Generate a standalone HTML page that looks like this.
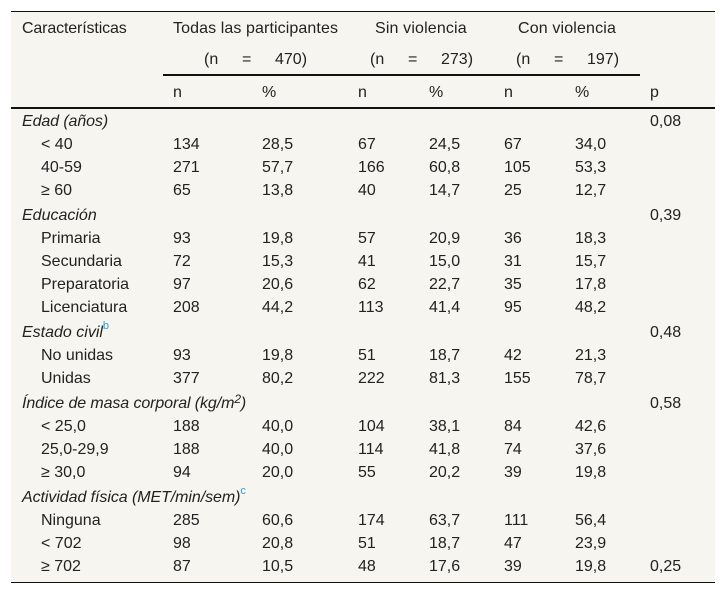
<!DOCTYPE html>
<html lang="es">
<head>
<meta charset="utf-8">
<title>Características de las participantes</title>
<style>
html,body{margin:0;padding:0;background:#fff}
#t{position:relative;width:726px;height:594px;overflow:hidden;background:#fff;font:16px/20px "Liberation Sans",sans-serif;color:#222}
#bg{position:absolute;left:11px;top:11px;width:704px;height:571px;background:#f7f5ef}
.l{position:absolute;background:#111}
.r{position:absolute;left:0;width:726px;height:20px;margin-top:2px}
.r span{position:absolute;top:0;white-space:nowrap}
.c0{left:22px}.i{left:41px}.a{left:173px}.b{left:262px}.c{left:358px}.d{left:429px}.e{left:504px}.f{left:575px}.p{left:650px}
em{font-style:italic}
sup{position:absolute;font-size:11px;line-height:10px;top:-2px;margin-left:0}
.ref{color:#2a9fe0;font-style:normal}
</style>
</head>
<body>
<div id="t">
<div id="bg"></div>
<div class="l" style="left:11px;top:11px;width:704px;height:1px"></div>
<div class="l" style="left:163px;top:74px;width:477px;height:2px"></div>
<div class="l" style="left:11px;top:107px;width:704px;height:2px"></div>
<div class="l" style="left:11px;top:582px;width:704px;height:1px"></div>

<div class="r" style="top:17px"><span class="c0" style="letter-spacing:-.14px">Características</span><span class="a" style="letter-spacing:.1px">Todas las participantes</span><span style="left:375px;letter-spacing:.15px">Sin violencia</span><span style="left:518px;letter-spacing:.15px">Con violencia</span></div>
<div class="r" style="top:48px"><span style="left:204px">(n</span><span style="left:242px">=</span><span style="left:275px">470)</span><span style="left:370px">(n</span><span style="left:408px">=</span><span style="left:441px">273)</span><span style="left:516px">(n</span><span style="left:554px">=</span><span style="left:587px">197)</span></div>
<div class="r" style="top:81px"><span class="a">n</span><span class="b">%</span><span class="c">n</span><span class="d">%</span><span class="e">n</span><span class="f">%</span><span class="p">p</span></div>

<div class="r" style="top:110px"><span class="c0" style="letter-spacing:-.1px"><em>Edad (años)</em></span><span class="p">0,08</span></div>
<div class="r" style="top:133px"><span class="i">&lt; 40</span><span class="a">134</span><span class="b">28,5</span><span class="c">67</span><span class="d">24,5</span><span class="e">67</span><span class="f">34,0</span></div>
<div class="r" style="top:156px"><span class="i">40-59</span><span class="a">271</span><span class="b">57,7</span><span class="c">166</span><span class="d">60,8</span><span class="e">105</span><span class="f">53,3</span></div>
<div class="r" style="top:179px"><span class="i">≥ 60</span><span class="a">65</span><span class="b">13,8</span><span class="c">40</span><span class="d">14,7</span><span class="e">25</span><span class="f">12,7</span></div>

<div class="r" style="top:204px"><span class="c0"><em>Educación</em></span><span class="p">0,39</span></div>
<div class="r" style="top:227px"><span class="i">Primaria</span><span class="a">93</span><span class="b">19,8</span><span class="c">57</span><span class="d">20,9</span><span class="e">36</span><span class="f">18,3</span></div>
<div class="r" style="top:250px"><span class="i">Secundaria</span><span class="a">72</span><span class="b">15,3</span><span class="c">41</span><span class="d">15,0</span><span class="e">31</span><span class="f">15,7</span></div>
<div class="r" style="top:273px"><span class="i">Preparatoria</span><span class="a">97</span><span class="b">20,6</span><span class="c">62</span><span class="d">22,7</span><span class="e">35</span><span class="f">17,8</span></div>
<div class="r" style="top:296px"><span class="i">Licenciatura</span><span class="a">208</span><span class="b">44,2</span><span class="c">113</span><span class="d">41,4</span><span class="e">95</span><span class="f">48,2</span></div>

<div class="r" style="top:321px"><span class="c0"><em>Estado civil</em><sup class="ref">b</sup></span><span class="p">0,48</span></div>
<div class="r" style="top:344px"><span class="i">No unidas</span><span class="a">93</span><span class="b">19,8</span><span class="c">51</span><span class="d">18,7</span><span class="e">42</span><span class="f">21,3</span></div>
<div class="r" style="top:367px"><span class="i">Unidas</span><span class="a">377</span><span class="b">80,2</span><span class="c">222</span><span class="d">81,3</span><span class="e">155</span><span class="f">78,7</span></div>

<div class="r" style="top:392px"><span class="c0" style="letter-spacing:-.1px"><em>Índice de masa corporal (kg/m<b style="font-weight:normal;font-size:12px;position:relative;top:-5px">2</b>)</em></span><span class="p">0,58</span></div>
<div class="r" style="top:415px"><span class="i">&lt; 25,0</span><span class="a">188</span><span class="b">40,0</span><span class="c">104</span><span class="d">38,1</span><span class="e">84</span><span class="f">42,6</span></div>
<div class="r" style="top:438px"><span class="i">25,0-29,9</span><span class="a">188</span><span class="b">40,0</span><span class="c">114</span><span class="d">41,8</span><span class="e">74</span><span class="f">37,6</span></div>
<div class="r" style="top:461px"><span class="i">≥ 30,0</span><span class="a">94</span><span class="b">20,0</span><span class="c">55</span><span class="d">20,2</span><span class="e">39</span><span class="f">19,8</span></div>

<div class="r" style="top:486px"><span class="c0" style="letter-spacing:-.07px"><em>Actividad física (MET/min/sem)</em><sup class="ref">c</sup></span></div>
<div class="r" style="top:509px"><span class="i">Ninguna</span><span class="a">285</span><span class="b">60,6</span><span class="c">174</span><span class="d">63,7</span><span class="e">111</span><span class="f">56,4</span></div>
<div class="r" style="top:532px"><span class="i">&lt; 702</span><span class="a">98</span><span class="b">20,8</span><span class="c">51</span><span class="d">18,7</span><span class="e">47</span><span class="f">23,9</span></div>
<div class="r" style="top:555px"><span class="i">≥ 702</span><span class="a">87</span><span class="b">10,5</span><span class="c">48</span><span class="d">17,6</span><span class="e">39</span><span class="f">19,8</span><span class="p">0,25</span></div>
</div>
</body>
</html>
